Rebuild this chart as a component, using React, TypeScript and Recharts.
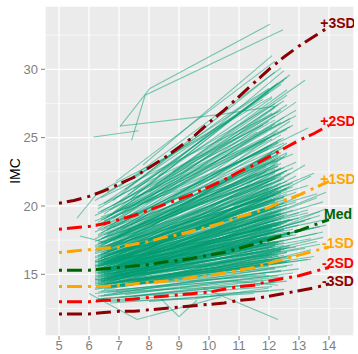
import React from 'react';
import { ComposedChart, Line, XAxis, YAxis, CartesianGrid, Scatter } from 'recharts';

const xTicks = [5, 6, 7, 8, 9, 10, 11, 12, 13, 14];
const yTicks = [15, 20, 25, 30];
const xMinor = [4.5, 5.5, 6.5, 7.5, 8.5, 9.5, 10.5, 11.5, 12.5, 13.5, 14.5];
const yMinor = [12.5, 17.5, 22.5, 27.5, 32.5];

const refAges = [5, 5.5, 6, 6.5, 7, 7.5, 8, 8.5, 9, 9.5, 10, 10.5, 11, 11.5, 12, 12.5, 13, 13.5, 14];
const refM3 = [12.1, 12.1, 12.1, 12.2, 12.3, 12.3, 12.4, 12.5, 12.6, 12.7, 12.8, 12.9, 13.1, 13.2, 13.4, 13.6, 13.8, 14.0, 14.3];
const refM2 = [13.0, 13.0, 13.0, 13.1, 13.1, 13.2, 13.3, 13.4, 13.5, 13.6, 13.7, 13.9, 14.1, 14.2, 14.5, 14.7, 14.9, 15.2, 15.5];
const refM1 = [14.1, 14.1, 14.1, 14.1, 14.2, 14.3, 14.4, 14.5, 14.6, 14.8, 14.9, 15.1, 15.3, 15.5, 15.8, 16.1, 16.4, 16.7, 17.0];
const refMed = [15.3, 15.3, 15.3, 15.4, 15.5, 15.6, 15.7, 15.9, 16.0, 16.2, 16.4, 16.6, 16.9, 17.2, 17.5, 17.9, 18.2, 18.6, 19.0];
const refP1 = [16.6, 16.7, 16.8, 16.9, 17.0, 17.2, 17.4, 17.7, 17.9, 18.2, 18.5, 18.8, 19.2, 19.5, 19.9, 20.4, 20.8, 21.3, 21.8];
const refP2 = [18.3, 18.4, 18.5, 18.7, 19.0, 19.3, 19.7, 20.1, 20.5, 20.9, 21.4, 21.9, 22.5, 23.0, 23.6, 24.2, 24.8, 25.3, 25.9];
const refP3 = [20.2, 20.4, 20.7, 21.1, 21.6, 22.1, 22.8, 23.5, 24.3, 25.1, 26.1, 27.0, 28.0, 29.0, 30.0, 30.9, 31.7, 32.4, 33.1];

const labelNames = ['+3SD', '+2SD', '+1SD', 'Med', '-1SD', '-2SD', '-3SD'];
const labelY = [33.4, 26.2, 22.0, 19.4, 17.3, 15.8, 14.5];
const labelX = 14.3;
const refColors = ['#8B0000', '#FF0000', '#FFA500', '#006400', '#FFA500', '#FF0000', '#8B0000'];

// individual trajectories: flat [age, imc, age, imc, ...]
const veryLow = [
  [6.3,13.2,12.1,14.1],[6.4,13.4,11.8,14.6],[6.2,13.6,12.3,14.9],[6.6,13.1,12.0,13.8],[6.5,13.5,12.4,15.3],
  [6.3,13.7,11.9,15.0],[7.0,13.3,12.2,14.4],[6.8,13.6,12.6,15.6],[6.2,13.0,9.5,13.2,12.0,14.0],[6.4,13.8,12.5,14.8],
  [7.2,13.5,12.8,15.1],[6.7,12.9,11.5,13.6],[6.3,13.4,10.8,14.5,12.3,14.2],[6.9,13.8,13.0,15.4],[6.5,13.9,12.2,15.8],
  [8.0,13.0,12.5,13.9],[6.2,13.9,12.1,16.0],[7.5,13.4,12.4,14.7],[6.6,13.7,11.7,14.2],[6.4,13.2,12.6,14.5],
];
const low = [
  [6.2,14.0,12.2,15.5],[6.3,14.2,12.0,16.1],[6.4,14.5,12.3,16.4],[6.5,14.1,12.4,15.2],[6.2,14.7,12.1,17.0],
  [6.6,14.3,11.9,16.0],[6.3,14.8,12.5,16.8],[6.7,14.0,12.2,15.9],[6.4,14.6,12.0,17.3],[6.8,14.4,12.6,16.3],
  [6.2,14.3,11.8,15.8],[6.5,14.7,12.3,17.6],[6.9,14.2,12.1,16.6],[6.3,14.0,12.7,16.2],[6.6,14.8,12.4,16.9],
  [7.0,14.5,12.2,17.1],[6.4,14.9,12.5,17.8],[6.2,14.4,12.3,16.0],[7.1,14.1,12.9,16.4],[6.5,14.3,12.0,15.6],
  [6.3,14.6,11.5,16.6],[6.7,14.7,12.2,18.1],[6.4,14.2,12.6,15.9],[7.3,14.6,12.4,16.7],[6.6,14.0,12.1,16.5],
  [6.2,14.8,12.2,17.4],[6.8,14.9,12.8,17.9],[6.5,14.5,13.2,16.9],[6.3,14.1,12.0,14.9],[7.0,14.8,12.3,16.3],
  [6.9,14.4,11.9,17.2],[6.4,14.7,12.1,16.1],[6.6,14.6,12.5,18.3],[7.4,14.3,12.7,16.0],[6.2,14.5,12.4,16.7],
  [6.7,14.2,13.4,16.1],[6.3,14.9,12.3,18.6],[6.5,14.0,12.2,15.4],[7.2,14.9,12.0,17.5],[6.8,14.1,12.4,16.8],
  [6.4,14.4,9.8,15.2,12.2,16.5],[6.6,14.9,10.5,16.2,12.3,17.2],[6.3,14.3,11.0,15.5,12.6,15.9],[6.9,14.6,12.1,17.7],
  [6.5,14.8,12.9,17.0],[7.6,14.5,12.5,16.4],[8.2,14.6,12.6,16.6],[6.2,14.6,12.0,16.4],[6.7,14.5,12.3,17.9],[6.4,14.0,12.8,15.7],
];
const mid = [
  [6.2,15.0,12.2,17.8],[6.3,15.2,12.0,18.5],[6.4,15.4,12.3,17.9],[6.5,15.1,12.4,18.8],[6.2,15.5,12.1,19.2],
  [6.6,15.3,12.5,18.2],[6.3,15.7,12.2,19.6],[6.7,15.0,11.9,17.3],[6.4,15.8,12.6,20.1],[6.8,15.5,12.3,18.6],
  [6.2,15.9,12.0,19.9],[6.5,15.6,12.2,18.0],[6.9,15.2,12.4,17.7],[6.3,15.3,12.7,19.0],[6.6,15.9,12.1,20.5],
  [7.0,15.4,12.3,18.4],[6.4,15.1,12.5,17.5],[6.2,15.6,12.4,19.4],[7.1,15.8,12.8,19.7],[6.5,15.0,12.0,16.9],
  [6.3,15.9,11.6,18.9],[6.7,15.7,12.2,20.8],[6.4,15.2,12.6,18.1],[7.3,15.5,12.4,19.1],[6.6,15.4,12.1,17.6],
  [6.2,15.3,12.2,18.3],[6.8,15.9,12.9,20.3],[6.5,15.8,13.3,19.5],[6.3,15.0,12.0,18.7],[7.0,15.1,12.3,17.4],
  [6.9,15.6,11.9,19.8],[6.4,15.5,12.1,18.9],[6.6,15.2,12.5,19.3],[7.4,15.9,12.7,19.0],[6.2,15.7,12.4,18.6],
  [6.7,15.3,13.5,18.4],[6.3,15.6,12.3,21.2],[6.5,15.4,12.2,17.2],[7.2,15.0,12.0,18.0],[6.8,15.1,12.4,18.9],
  [6.4,15.7,9.9,17.5,12.2,19.0],[6.6,15.0,10.6,16.6,12.3,18.2],[6.3,15.8,11.1,18.6,12.6,19.9],[6.9,15.9,12.1,21.0],
  [6.5,15.3,12.9,17.9],[7.6,15.6,12.5,19.2],[8.1,15.2,12.6,18.0],[6.2,15.2,12.0,17.6],[6.7,15.5,12.3,20.0],
  [6.4,15.9,12.8,18.3],[6.3,15.1,12.4,19.7],[6.5,15.9,12.1,18.4],[6.6,15.6,12.0,20.7],[6.2,15.4,12.5,17.1],
  [7.0,15.7,12.2,19.3],[6.4,15.0,13.0,18.6],[6.8,15.4,12.3,17.8],[6.3,15.5,11.8,20.2],[6.7,15.8,12.6,18.8],
  [6.5,15.2,12.4,19.5],[7.1,15.3,12.1,18.1],[6.2,15.8,12.3,21.5],[6.9,15.0,12.7,17.0],[6.4,15.6,12.2,20.4],
  [6.6,15.1,13.7,18.5],[7.5,15.8,12.9,20.6],[6.3,15.4,12.0,19.1],[6.5,15.7,12.5,18.7],[8.5,16.0,12.4,19.4],[9.0,16.2,12.8,19.0],
];
const upperMid = [
  [6.2,16.0,12.2,20.9],[6.3,16.3,12.0,21.8],[6.4,16.5,12.3,20.6],[6.5,16.2,12.4,22.3],[6.2,16.8,12.1,21.4],
  [6.6,16.4,12.5,20.2],[6.3,17.0,12.2,23.0],[6.7,16.1,11.9,19.9],[6.4,17.2,12.6,22.6],[6.8,16.6,12.3,21.1],
  [6.2,17.4,12.0,22.0],[6.5,16.9,12.2,20.8],[6.9,16.3,12.4,19.8],[6.3,16.7,12.7,21.6],[6.6,17.3,12.1,23.5],
  [7.0,16.5,12.3,22.1],[6.4,16.0,12.5,19.5],[6.2,16.6,12.4,21.0],[7.1,17.1,12.8,22.8],[6.5,16.4,12.0,19.7],
  [6.3,17.5,11.6,22.4],[6.7,16.9,12.2,24.1],[6.4,16.2,12.6,21.3],[7.3,16.8,12.4,21.7],[6.6,16.7,12.1,20.4],
  [6.2,16.3,12.2,20.0],[6.8,17.4,12.9,23.2],[6.5,17.0,13.3,21.5],[6.3,16.1,12.0,21.2],[7.0,16.2,12.3,19.6],
  [6.9,17.2,11.9,22.9],[6.4,16.8,12.1,21.9],[6.6,16.0,12.5,20.7],[7.4,17.0,12.7,21.4],[6.2,17.1,12.4,22.7],
  [6.7,16.4,13.6,20.9],[6.3,16.9,12.3,24.6],[6.5,16.6,12.2,19.9],[7.2,16.7,12.0,21.6],[6.8,16.2,12.4,22.2],
  [6.4,17.3,10.0,19.8,12.2,22.5],[6.6,16.5,10.7,18.4,12.3,20.3],[6.3,17.2,11.2,21.4,12.6,23.8],[6.9,16.9,12.1,23.9],
  [6.5,16.1,12.9,21.0],[7.6,17.4,12.5,22.0],[8.0,17.0,12.6,21.2],[6.2,16.7,12.0,20.6],[6.7,17.5,12.3,22.9],
  [6.4,16.4,12.8,21.7],[8.6,17.6,12.3,21.3],[9.2,18.0,12.9,22.2],
];
const core = [
  [6.2,14.9,12.2,17.0],[6.3,15.1,12.4,17.7],[6.4,15.3,12.1,18.6],[6.5,15.5,12.3,19.0],[6.6,15.7,12.5,19.8],
  [6.2,15.9,12.2,20.3],[6.3,16.1,12.0,20.1],[6.4,16.3,12.4,20.8],[6.5,16.5,12.6,21.8],[6.6,16.7,12.2,22.4],
  [6.7,14.8,12.3,17.3],[6.8,15.0,12.1,18.4],[6.9,15.2,12.5,18.5],[7.0,15.4,12.2,19.9],[7.1,15.6,12.4,18.2],
  [6.2,14.6,12.6,16.9],[6.3,14.4,12.3,16.5],[6.4,14.2,12.1,16.3],[6.5,14.6,12.4,17.4],[6.6,14.4,12.2,17.8],
  [6.2,16.2,12.3,19.4],[6.3,16.4,12.5,21.5],[6.4,16.6,12.2,22.0],[6.5,16.8,12.0,21.3],[6.6,17.0,12.4,23.1],
  [6.7,17.2,12.1,21.7],[6.8,17.5,12.3,23.8],[6.9,17.7,12.5,24.3],[7.0,18.0,12.2,22.7],[7.1,18.3,12.4,24.9],
  [6.2,15.1,13.1,18.2],[6.3,15.6,13.3,19.7],[6.4,16.0,13.0,19.1],[6.5,14.9,13.4,17.6],[6.6,15.4,13.2,18.9],
  [6.2,15.3,11.4,17.9],[6.3,15.8,11.6,19.5],[6.4,16.2,11.3,20.2],[6.5,16.9,11.5,21.6],[6.6,14.7,11.2,16.2],
  [6.7,15.9,12.6,20.9],[6.8,16.3,12.8,21.4],[6.9,16.6,12.2,20.5],[7.0,16.9,12.6,22.6],[7.2,17.3,12.3,23.3],
  [6.2,17.0,12.4,21.9],[6.3,17.3,12.2,22.1],[6.4,17.6,12.6,23.9],[6.5,17.9,12.3,22.9],[6.6,18.2,12.5,25.0],
  [6.7,14.3,12.4,16.2],[6.8,14.6,12.2,16.9],[6.9,14.9,12.0,17.5],[7.0,15.2,12.6,17.9],[7.1,15.0,12.2,18.8],
  [7.3,15.3,12.5,18.3],[7.4,15.7,12.3,19.6],[7.5,16.1,12.6,20.4],[7.7,16.4,12.4,21.0],[7.9,16.8,12.7,22.4],
  [6.2,14.2,12.4,15.9],[6.3,14.5,12.6,16.6],[6.4,14.8,12.2,17.6],[6.5,15.0,12.5,17.3],[6.6,15.2,12.3,18.7],
  [6.7,15.4,12.0,18.3],[6.8,15.6,12.6,19.4],[6.9,15.8,12.4,20.0],[7.0,16.0,12.2,19.2],[7.1,16.2,12.5,20.7],
  [6.2,16.5,12.6,20.5],[6.3,16.8,12.4,22.8],[6.4,17.0,12.2,21.1],[6.5,17.4,12.5,23.6],[6.6,17.6,12.3,22.6],
  [6.2,15.6,12.7,18.0],[6.3,15.9,12.5,20.6],[6.4,14.5,12.7,17.1],[6.5,15.2,12.1,19.6],[6.6,15.8,12.4,21.3],
];
const high = [
  [6.2,17.6,12.2,23.4],[6.3,17.9,12.0,24.4],[6.4,18.2,12.3,23.7],[6.5,17.7,12.4,25.2],[6.2,18.5,12.1,24.9],
  [6.6,18.0,12.5,22.8],[6.3,18.8,12.2,26.0],[6.7,17.8,11.9,22.5],[6.4,19.0,12.6,25.6],[6.8,18.4,12.3,24.0],
  [6.2,19.3,12.0,25.0],[6.5,18.6,12.2,23.3],[6.9,18.1,12.4,23.9],[6.3,18.3,12.7,26.4],[6.6,19.2,12.1,26.8],
  [7.0,18.7,12.3,24.7],[6.4,17.6,12.5,22.4],[7.1,19.4,12.8,25.9],[6.5,18.9,12.0,24.2],[6.3,19.5,11.6,25.4],
  [6.7,18.5,12.2,27.2],[7.3,18.2,12.4,23.6],[6.6,17.9,12.1,24.5],[6.8,19.1,12.9,27.0],[6.5,18.4,13.3,25.7],
  [7.0,17.7,12.3,23.1],[6.9,19.0,11.9,24.8],[7.4,18.6,12.7,26.2],[6.2,18.1,12.4,24.3],
  [6.4,19.2,10.1,22.0,12.2,25.3],[6.6,18.3,10.8,21.6,12.3,23.5],[7.6,19.4,12.5,26.5],[8.1,18.6,12.6,24.6],
  [6.3,17.8,12.8,23.8],[8.7,19.5,12.3,24.0],
  [6.3,18.6,12.4,26.1],[6.5,19.0,12.2,26.6],[6.7,19.3,12.5,27.7],[6.9,19.6,12.3,25.5],[7.1,19.9,12.6,28.1],
  [6.4,18.0,12.1,25.8],[6.6,18.8,12.6,27.4],[6.8,19.5,12.2,28.8],[7.0,20.3,12.4,27.0],[7.4,20.5,12.3,29.0],
  [6.2,18.9,12.5,24.6],[6.5,19.4,12.1,27.9],[7.2,19.8,12.7,25.8],[7.6,20.6,12.2,26.3],[8.2,21.5,12.6,28.5],
  [6.4,19.6,12.0,26.2],[6.8,20.4,12.2,29.8],[7.5,21.3,12.4,28.9],[6.3,20.0,11.8,25.9],[7.9,20.2,12.9,27.6],
];
const veryHigh = [
  [6.3,19.8,12.2,27.5],[6.5,20.2,12.0,28.3],[6.4,20.6,12.3,26.9],[6.8,20.0,12.5,29.2],[6.6,21.0,12.1,28.0],
  [7.0,21.4,12.4,30.1],[6.2,20.4,11.8,27.8],[7.3,20.8,12.7,29.6],[6.9,21.8,12.2,30.6],[7.5,22.0,12.6,29.4],
  [6.7,19.7,12.9,26.6],[8.0,21.0,12.3,27.4],[7.8,23.0,12.1,31.0],[8.3,22.2,12.5,29.9],[7.2,21.2,10.5,26.5,12.0,28.6],
  [8.8,22.5,13.2,29.2],
];
const late = [
  [9.5,17.0,13.9,19.0],[9.8,16.2,13.8,18.1],[10.2,17.8,13.6,20.6],[9.6,15.5,13.7,17.2],[10.0,18.5,13.4,22.2],
  [10.4,16.8,13.9,18.6],[9.9,15.1,13.5,16.3],[10.5,19.5,13.2,23.0],[11.0,17.2,13.9,19.8],[10.8,20.0,13.5,22.4],
  [10.3,15.9,13.8,17.7],
  [9.2,15.8,13.6,18.0],[9.7,16.6,13.4,19.1],[10.1,17.3,13.7,19.6],[10.6,18.2,13.8,20.3],[9.4,14.8,13.3,16.1],
  [10.9,16.1,13.6,17.4],[11.2,18.6,13.9,21.0],[10.7,15.3,13.4,16.8],[9.3,16.9,13.0,19.5],[11.4,17.8,13.7,19.3],
];
const outliers = [
  [7.03,25.8,8.03,28.6,12.03,33.3],
  [7.42,24.8,7.87,28.1,12.47,32.9],
  [6.15,25.05,7.65,25.5],
  [7.05,25.85,10.4,26.7,12.2,27.3],
  [6.0,13.6,7.6,11.7,10.4,13.35],
  [8.4,13.2,9.0,11.9,9.6,13.1],
  [9.8,14.0,12.3,11.7],
  [5.6,19.1,6.3,21.0,8.5,23.5],
  [5.7,17.8,6.6,17.3],
];

const kids = [...veryLow, ...low, ...mid, ...core, ...upperMid, ...high, ...veryHigh, ...late, ...outliers];

const toPts = (flat: number[]) => {
  const out: { x: number; y: number }[] = [];
  for (let i = 0; i < flat.length; i += 2) out.push({ x: flat[i], y: flat[i + 1] });
  return out;
};

const refSeries = [refP3, refP2, refP1, refMed, refM1, refM2, refM3].map((vals, i) => ({
  color: refColors[i],
  data: refAges.map((a, j) => ({ x: a, y: vals[j] })),
}));

const labelData = labelNames.map((n, i) => ({ x: labelX, y: labelY[i], name: n, color: refColors[i] }));

const X_DOMAIN: [number, number] = [4.5333, 14.8333];
const Y_DOMAIN: [number, number] = [10.486, 34.63];

const LabelShape = (p: any) => (
  <text
    x={p.cx}
    y={p.cy}
    textAnchor="middle"
    dominantBaseline="central"
    fill={p.payload.color}
    fontWeight="bold"
    fontSize={14}
    fontFamily="Liberation Sans, Arial, sans-serif"
  >
    {p.payload.name}
  </text>
);

const tickStyle = { fill: '#7F7F7F', fontSize: 13, fontFamily: 'Liberation Sans, Arial, sans-serif' };

export default function App() {
  return (
    <div style={{ position: 'absolute', left: 0, top: 0, width: 358, height: 354 }}>
      <ComposedChart width={358} height={354} margin={{ top: 6, right: 4, left: 0, bottom: 0 }}>
        <XAxis xAxisId="minor" type="number" domain={X_DOMAIN} ticks={xMinor} allowDataOverflow hide />
        <YAxis yAxisId="minor" type="number" domain={Y_DOMAIN} ticks={yMinor} allowDataOverflow hide />
        <CartesianGrid xAxisId="minor" yAxisId="minor" fill="#EBEBEB" stroke="#FFFFFF" strokeWidth={0.6} />
        <CartesianGrid stroke="#FFFFFF" strokeWidth={1.2} />
        <XAxis
          type="number"
          dataKey="x"
          domain={X_DOMAIN}
          ticks={xTicks}
          allowDataOverflow
          axisLine={false}
          tickLine={{ stroke: '#7F7F7F' }}
          tickSize={4}
          tickMargin={1}
          height={18}
          tick={tickStyle}
        />
        <YAxis
          type="number"
          dataKey="y"
          domain={Y_DOMAIN}
          ticks={yTicks}
          allowDataOverflow
          axisLine={false}
          tickLine={{ stroke: '#7F7F7F' }}
          tickSize={4}
          tickMargin={3}
          width={45}
          tick={tickStyle}
          label={{
            value: 'IMC',
            angle: -90,
            position: 'insideLeft',
            offset: 15,
            style: { fill: '#000', fontSize: 14, fontFamily: 'Liberation Sans, Arial, sans-serif', textAnchor: 'middle' },
          }}
        />
        {kids.map((k, i) => (
          <Line
            key={'k' + i}
            data={toPts(k)}
            dataKey="y"
            type="linear"
            stroke="#009E73"
            strokeOpacity={0.5}
            strokeWidth={1.1}
            dot={false}
            activeDot={false}
            isAnimationActive={false}
            legendType="none"
          />
        ))}
        {refSeries.map((s, i) => (
          <Line
            key={'r' + i}
            data={s.data}
            dataKey="y"
            type="linear"
            stroke={s.color}
            strokeWidth={3}
            strokeDasharray="3 5 15 6"
            dot={false}
            activeDot={false}
            isAnimationActive={false}
            legendType="none"
          />
        ))}
        <Scatter data={labelData} dataKey="y" shape={LabelShape} isAnimationActive={false} legendType="none" />
      </ComposedChart>
    </div>
  );
}
